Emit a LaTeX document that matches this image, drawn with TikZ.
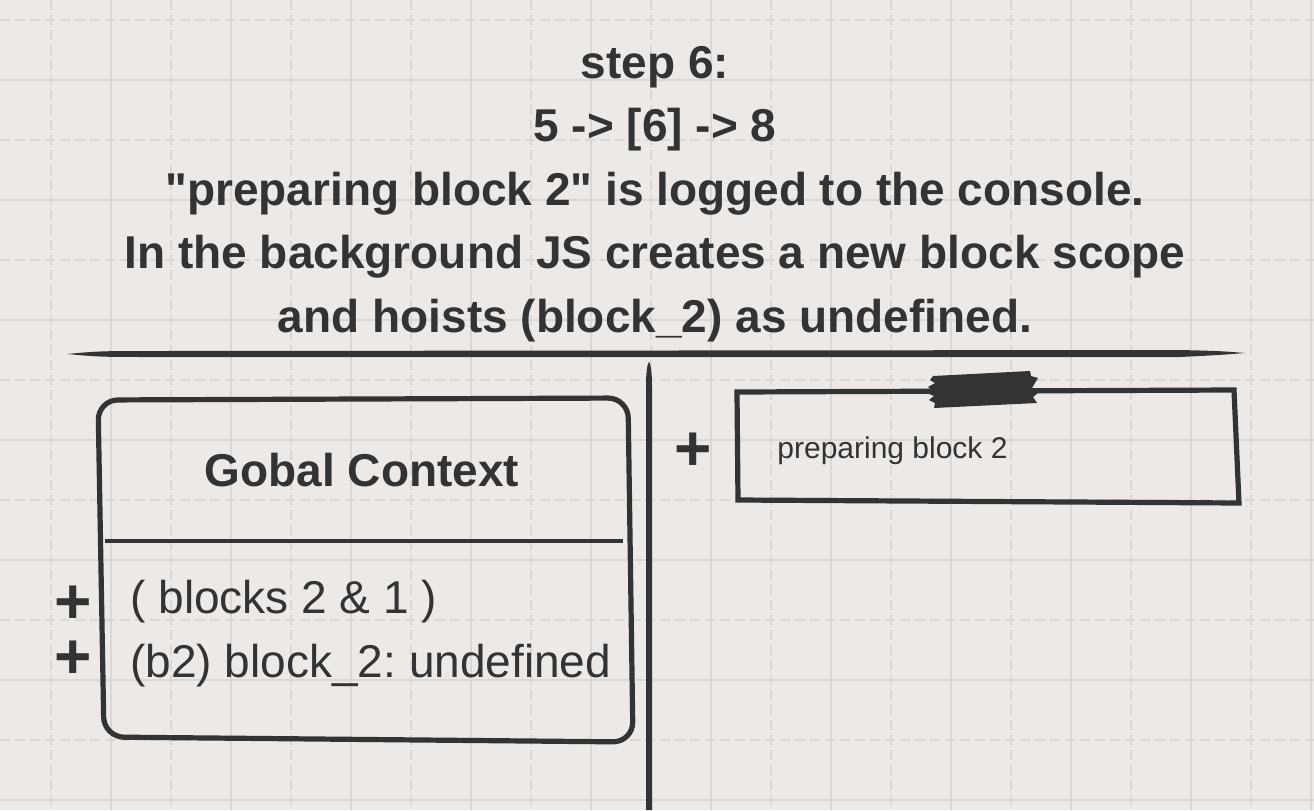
\documentclass[tikz,border=0pt]{standalone}
\usepackage{fontspec}
\setmainfont{Liberation Sans}
\frenchspacing
\definecolor{paper}{HTML}{ECE9E6}
\definecolor{gridline}{HTML}{DAD7D4}
\definecolor{ink}{HTML}{333333}
\begin{document}
\begin{tikzpicture}[x=0.5pt, y=-0.5pt,
    gridsolid/.style={color=gridline, line width=0.8pt},
    griddashed/.style={color=gridline, line width=0.8pt, dash pattern=on 5pt off 2.5pt},
    sketch/.style={color=ink, line width=2.6pt, line join=round},
    heading/.style={text=ink, align=center, font=\fontsize{23}{31.75}\selectfont\bfseries},
    entry/.style={text=ink, anchor=base west, inner sep=0pt, font=\fontsize{23}{28}\selectfont},
    plussign/.style={text=ink, inner sep=0pt, text height=21pt, text depth=0pt,
        font=\fontsize{32}{32}\selectfont\bfseries}]
\useasboundingbox (0,0) rectangle (1314,810);
\fill [paper] (0,0) rectangle (1314,810);
\foreach \x in {111,231,...,1311} \draw [gridsolid] (\x,0) -- (\x,810);
\foreach \x in {51,171,...,1251} \draw [griddashed] (\x,0) -- (\x,810);
\foreach \y in {80,200,...,800} \draw [gridsolid] (0,\y) -- (1314,\y);
\foreach \y in {20,140,...,740} \draw [griddashed] (0,\y) -- (1314,\y);

\node [heading] (title) at (655,194) {step 6:\\5 -> [6] -> 8\\\textquotedbl preparing block 2\textquotedbl{} is logged to the console.\\In the background JS creates a new block scope\\and hoists (block\_2) as undefined.};

\fill [ink] (67,354) .. controls (100,351) .. (160,351) -- (1180,350)
    .. controls (1220,351) .. (1245,353) .. controls (1220,355) .. (1180,357)
    -- (160,357) .. controls (100,357) .. cycle;
\fill [ink] (646,810) -- (646,385) .. controls (646,370) and (648,362) .. (649,362)
    .. controls (650,362) and (652,370) .. (652,385) -- (652,810) -- cycle;

\draw [sketch, rounded corners=10pt] (98,400) -- (628,398) -- (633,742) -- (104,737) -- cycle;
\draw [sketch, line width=2pt] (105,541) -- (623,541);
\node [heading] (global) at (362,470) {Gobal Context};
\node [entry] (blocks) at (130,613) {( blocks 2 \& 1 )};
\node [entry] (hoisted) at (130,677) {(b2) block\_2: undefined};
\node [plussign] (plusblocks) at (73,602) {+};
\node [plussign] (plushoisted) at (73,657) {+};

\draw [sketch, line join=miter] (737,392) -- (1234,390) -- (1239,503) -- (738,500) -- cycle;
\fill [ink] (933,376) -- (930,380) -- (935,383) -- (928,387) -- (932,390) -- (927,393)
    -- (934,396) -- (929,400) -- (935,403) -- (934,408) -- (1037,403) -- (1033,397)
    -- (1038,393) -- (1032,388) -- (1038,378) -- (1031,376) -- (1030,371) -- cycle;
\node [entry, font=\fontsize{15}{18}\selectfont] (console) at (777,458) {preparing block 2};
\node [plussign] (plusconsole) at (693,449) {+};
\end{tikzpicture}
\end{document}
